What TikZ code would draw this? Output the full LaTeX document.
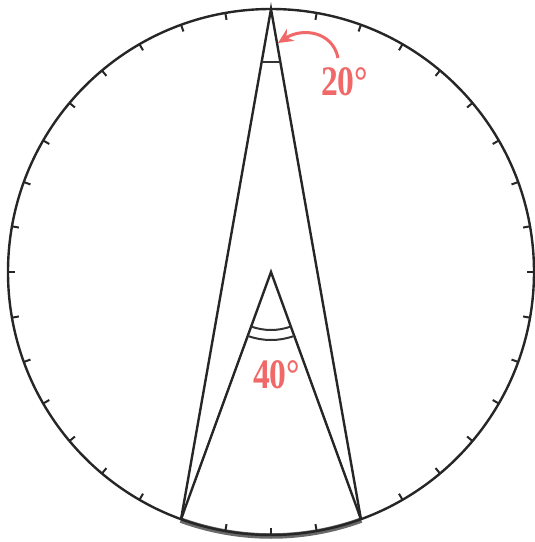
\documentclass[tikz,border=0pt]{standalone}
\usepackage{fontspec}
\setmainfont{Liberation Serif}
\usetikzlibrary{arrows.meta,calc}
\definecolor{lab}{RGB}{240,104,104}
\definecolor{arcgray}{RGB}{105,105,105}
\tikzset{
  edge/.style={line width=2.4pt, black!85},
  tickmark/.style={line width=2pt, black!85},
  anglemark/.style={line width=2pt, black!80},
  deglabel/.style={text=lab, font=\fontsize{42}{42}\selectfont\bfseries, xscale=0.8, inner sep=0pt},
  pointer/.style={draw=lab, line width=3pt, -{Stealth[length=15pt,width=14pt]}}
}
\begin{document}
\begin{tikzpicture}[x=1pt,y=1pt]
\useasboundingbox (-271,-270) rectangle (264,272);
\coordinate (C) at (0,0);
\coordinate (T) at (90:263);
\coordinate (A) at (250:263);
\coordinate (B) at (290:263);
% highlighted arc
\draw[arcgray, line width=5.5pt] (250:264) arc[start angle=250, end angle=290, radius=264];
% circle
\draw[edge] (C) circle[radius=263];
% ticks
\foreach \a in {0,10,...,350}
  \draw[tickmark] (\a:263) -- (\a:256);
% lines
\draw[edge] (A) -- (T) -- (B);
\draw[edge] (A) -- (C) -- (B);
% angle marks
\draw[anglemark] ($(T)+(260:54)$) -- ($(T)+(280:54)$);
\draw[anglemark] ($(C)+(250:58)$) arc[start angle=250, end angle=290, radius=58];
\draw[anglemark] ($(C)+(250:68)$) arc[start angle=250, end angle=290, radius=68];
% labels
\node[deglabel, anchor=base west] (l20) at (50,177) {20°};
\node[deglabel, anchor=base west] (l40) at (-18,-116) {40°};
\coordinate (tail) at (67,214);
\coordinate (tip) at (7,229);
\draw[pointer] (tail) .. controls (62,240) and (32,245) .. (tip);
\end{tikzpicture}
\end{document}
